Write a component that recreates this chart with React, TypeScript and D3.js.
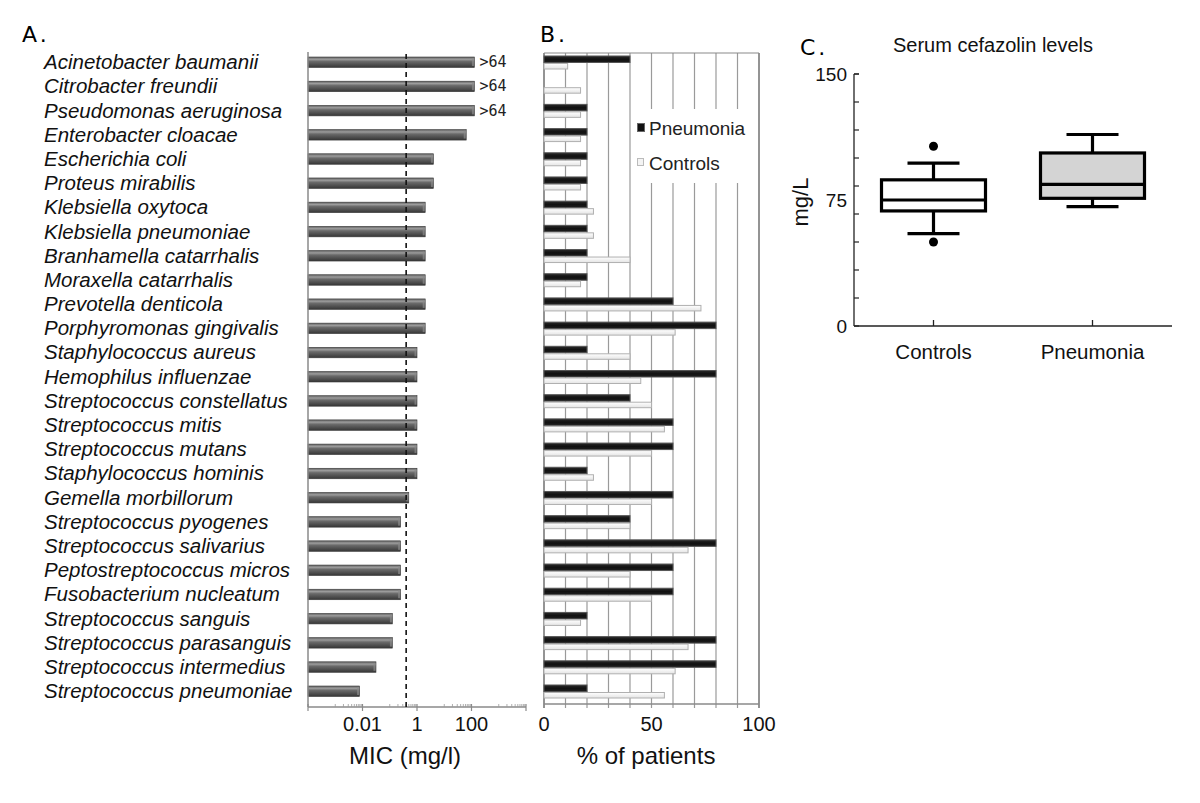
import React from "react";
import * as d3 from "d3";

const species = [
  "Acinetobacter baumanii",
  "Citrobacter freundii",
  "Pseudomonas aeruginosa",
  "Enterobacter cloacae",
  "Escherichia coli",
  "Proteus mirabilis",
  "Klebsiella oxytoca",
  "Klebsiella pneumoniae",
  "Branhamella catarrhalis",
  "Moraxella catarrhalis",
  "Prevotella denticola",
  "Porphyromonas gingivalis",
  "Staphylococcus aureus",
  "Hemophilus influenzae",
  "Streptococcus constellatus",
  "Streptococcus mitis",
  "Streptococcus mutans",
  "Staphylococcus hominis",
  "Gemella morbillorum",
  "Streptococcus pyogenes",
  "Streptococcus salivarius",
  "Peptostreptococcus micros",
  "Fusobacterium nucleatum",
  "Streptococcus sanguis",
  "Streptococcus parasanguis",
  "Streptococcus intermedius",
  "Streptococcus pneumoniae",
];

const micValues = [
  128, 128, 128, 64, 4, 4, 2, 2, 2, 2, 2, 2, 1, 1, 1, 1, 1, 1, 0.5, 0.25, 0.25,
  0.25, 0.25, 0.125, 0.125, 0.03125, 0.0078,
];
const micAnnotations = [">64", ">64", ">64"];
const micBreakpoint = 0.4;
const micTickLabels = [0.01, 1, 100];
const micTickText = ["0.01", "1", "100"];

const pneumoniaPct = [
  40, 0, 20, 20, 20, 20, 20, 20, 20, 20, 60, 80, 20, 80, 40, 60, 60, 20, 60, 40,
  80, 60, 60, 20, 80, 80, 20,
];
const controlsPct = [
  11, 17, 17, 17, 17, 17, 23, 23, 40, 17, 73, 61, 40, 45, 50, 56, 50, 23, 50,
  40, 67, 40, 50, 17, 67, 61, 56,
];
const pctTickLabels = [0, 50, 100];

const boxGroups = ["Controls", "Pneumonia"];
const boxQ1 = [68.5, 76];
const boxMedian = [75, 84.3];
const boxQ3 = [87, 103];
const whiskerLow = [55, 71];
const whiskerHigh = [97, 114];
const controlsOutliers = [107, 50];
const serumTickLabels = [0, 75, 150];

const SANS = "'Liberation Sans', Arial, sans-serif";

export default function App() {
  const rowY = d3.scalePoint<string>().domain(species).range([62, 691]);

  // Panel A
  const xA = d3.scaleLog().domain([1e-4, 1e4]).range([308, 526]);
  const axisAY = 707;
  const minorA: number[] = [];
  [-3, -1, 1, 3].forEach((d) => {
    for (let k = 1; k <= 9; k++) minorA.push(k * Math.pow(10, d));
  });
  const majorA = [1e-4, 1e-2, 1, 100, 1e4];

  // Panel B
  const xB = d3.scaleLinear().domain([0, 100]).range([544, 759]);
  const topB = 53;
  const axisBY = 704;
  const gridB = d3.range(0, 101, 10);

  // Panel C
  const xC = d3.scaleBand<string>().domain(boxGroups).range([854, 1172]);
  const yC = d3.scaleLinear().domain([0, 150]).range([326, 74]);
  const minorC = d3.range(0, 10).map((i) => (i * 150) / 9).concat([150]);
  const boxW = 104;
  const capW = 52;

  return (
    <svg
      width={1200}
      height={803}
      style={{ position: "absolute", left: 0, top: 0, display: "block", background: "#fff" }}
    >
      <defs>
        <linearGradient id="barGrad" x1="0" y1="0" x2="0" y2="1">
          <stop offset="0%" stopColor="#5e5e5e" />
          <stop offset="22%" stopColor="#9c9c9c" />
          <stop offset="42%" stopColor="#6a6a6a" />
          <stop offset="100%" stopColor="#363636" />
        </linearGradient>
        <linearGradient id="darkGrad" x1="0" y1="0" x2="0" y2="1">
          <stop offset="0%" stopColor="#2a2a2a" />
          <stop offset="50%" stopColor="#111" />
          <stop offset="100%" stopColor="#1e1e1e" />
        </linearGradient>
        <linearGradient id="lightGrad" x1="0" y1="0" x2="0" y2="1">
          <stop offset="0%" stopColor="#ffffff" />
          <stop offset="100%" stopColor="#e4e4e4" />
        </linearGradient>
      </defs>

      {/* Panel labels */}
      <text x={22} y={42} fontFamily="'DejaVu Sans', sans-serif" fontSize={22} letterSpacing={3}>A.</text>
      <text x={540} y={42} fontFamily="'DejaVu Sans', sans-serif" fontSize={22} letterSpacing={3}>B.</text>
      <text x={800} y={55} fontFamily="'DejaVu Sans', sans-serif" fontSize={22} letterSpacing={3}>C.</text>

      {/* ===== Panel A ===== */}
      {species.map((s) => (
        <text
          key={"lab" + s}
          x={44}
          y={rowY(s)!}
          dy="0.35em"
          fontFamily={SANS}
          fontStyle="italic"
          fontSize={20.5}
          fill="#111"
        >
          {s}
        </text>
      ))}
      {species.map((s, i) => {
        const y = rowY(s)!;
        const x0 = xA(1e-4);
        const x1 = xA(micValues[i]);
        return (
          <g key={"barA" + s}>
            <rect x={x0} y={y - 5} width={x1 - x0} height={10.5} fill="url(#barGrad)" stroke="#3a3a3a" strokeWidth={0.6} />
            <rect x={x1 - 2.5} y={y - 4} width={2} height={8} fill="#8a8a8a" opacity={0.7} />
          </g>
        );
      })}
      {micAnnotations.map((t, i) => (
        <text
          key={"ann" + i}
          x={xA(micValues[i]) + 5}
          y={rowY(species[i])!}
          dy="0.35em"
          fontFamily="'DejaVu Sans Mono', monospace"
          fontSize={15}
          fill="#222"
        >
          {t}
        </text>
      ))}
      {/* axes A */}
      <line x1={308} x2={308} y1={52} y2={axisAY} stroke="#8a8a8a" strokeWidth={1.5} />
      <line x1={308} x2={526} y1={axisAY} y2={axisAY} stroke="#8a8a8a" strokeWidth={1.5} />
      {minorA.map((v, i) => (
        <line key={"mA" + i} x1={xA(v)} x2={xA(v)} y1={axisAY - 3} y2={axisAY} stroke="#9a9a9a" strokeWidth={0.8} />
      ))}
      {majorA.map((v, i) => (
        <line key={"MA" + i} x1={xA(v)} x2={xA(v)} y1={axisAY - 3} y2={axisAY + 4} stroke="#8a8a8a" strokeWidth={1.2} />
      ))}
      <line
        x1={xA(micBreakpoint)}
        x2={xA(micBreakpoint)}
        y1={54}
        y2={axisAY}
        stroke="#111"
        strokeWidth={1.6}
        strokeDasharray="5,4"
      />
      {micTickLabels.map((v, i) => (
        <text key={"tA" + i} x={xA(v)} y={731} textAnchor="middle" fontFamily={SANS} fontSize={20} fill="#111">
          {micTickText[i]}
        </text>
      ))}
      <text x={405} y={764} textAnchor="middle" fontFamily={SANS} fontSize={24} fill="#111">
        MIC (mg/l)
      </text>

      {/* ===== Panel B ===== */}
      {gridB.map((v) => (
        <line
          key={"gB" + v}
          x1={xB(v)}
          x2={xB(v)}
          y1={topB}
          y2={axisBY + 4}
          stroke={v === 0 || v === 100 ? "#707070" : "#9a9a9a"}
          strokeWidth={v === 0 || v === 100 ? 1.5 : 1.2}
        />
      ))}
      <line x1={xB(0)} x2={xB(100)} y1={topB} y2={topB} stroke="#8a8a8a" strokeWidth={1.2} />
      <line x1={xB(0)} x2={xB(100)} y1={axisBY} y2={axisBY} stroke="#8a8a8a" strokeWidth={1.5} />
      {species.map((s, i) => {
        const y = rowY(s)!;
        return (
          <g key={"barB" + s}>
            {pneumoniaPct[i] > 0 && (
              <rect
                x={xB(0)}
                y={y - 6}
                width={xB(pneumoniaPct[i]) - xB(0)}
                height={6.5}
                fill="url(#darkGrad)"
                stroke="#555"
                strokeWidth={1}
              />
            )}
            <rect
              x={xB(0)}
              y={y + 1.5}
              width={xB(controlsPct[i]) - xB(0)}
              height={5.5}
              fill="url(#lightGrad)"
              stroke="#b0b0b0"
              strokeWidth={1}
            />
          </g>
        );
      })}
      {/* legend */}
      <rect x={632} y={109} width={116} height={74} fill="#fff" />
      <rect x={637.5} y={123.5} width={7} height={8} fill="#111" stroke="#666" strokeWidth={1} />
      <text x={649} y={128} dy="0.35em" fontFamily={SANS} fontSize={19} fill="#222">Pneumonia</text>
      <rect x={637.5} y={158.5} width={6} height={7} fill="#f4f4f4" stroke="#bbb" strokeWidth={1} />
      <text x={649} y={163} dy="0.35em" fontFamily={SANS} fontSize={19} fill="#222">Controls</text>
      {pctTickLabels.map((v) => (
        <text key={"tB" + v} x={xB(v)} y={731} textAnchor="middle" fontFamily={SANS} fontSize={20} fill="#111">
          {v}
        </text>
      ))}
      <text x={646} y={764} textAnchor="middle" fontFamily={SANS} fontSize={24} fill="#111">
        % of patients
      </text>

      {/* ===== Panel C ===== */}
      <text x={993} y={52} textAnchor="middle" fontFamily={SANS} fontSize={20} fill="#111">
        Serum cefazolin levels
      </text>
      <line x1={854} x2={854} y1={yC(150)} y2={yC(0)} stroke="#222" strokeWidth={1.3} />
      <line x1={854} x2={1172} y1={yC(0)} y2={yC(0)} stroke="#222" strokeWidth={1.3} />
      {minorC.map((v, i) => (
        <line key={"mC" + i} x1={854} x2={859} y1={yC(v)} y2={yC(v)} stroke="#222" strokeWidth={1.2} />
      ))}
      {serumTickLabels.map((v) => (
        <text key={"tC" + v} x={847} y={yC(v)} dy="0.35em" textAnchor="end" fontFamily={SANS} fontSize={19} fill="#111">
          {v}
        </text>
      ))}
      <text
        transform={`translate(808, ${yC(75) + 2}) rotate(-90)`}
        textAnchor="middle"
        fontFamily={SANS}
        fontSize={22}
        fill="#111"
      >
        mg/L
      </text>
      {boxGroups.map((g, i) => {
        const cx = xC(g)! + xC.bandwidth() / 2;
        return (
          <g key={"box" + g}>
            <line x1={cx} x2={cx} y1={yC(0)} y2={yC(0) - 6} stroke="#222" strokeWidth={1.3} />
            <text x={cx} y={359} textAnchor="middle" fontFamily={SANS} fontSize={20.5} fill="#111">
              {g}
            </text>
            <line x1={cx} x2={cx} y1={yC(whiskerHigh[i])} y2={yC(boxQ3[i])} stroke="#000" strokeWidth={3.2} />
            <line x1={cx} x2={cx} y1={yC(boxQ1[i])} y2={yC(whiskerLow[i])} stroke="#000" strokeWidth={3.2} />
            <line x1={cx - capW / 2} x2={cx + capW / 2} y1={yC(whiskerHigh[i])} y2={yC(whiskerHigh[i])} stroke="#000" strokeWidth={3.2} />
            <line x1={cx - capW / 2} x2={cx + capW / 2} y1={yC(whiskerLow[i])} y2={yC(whiskerLow[i])} stroke="#000" strokeWidth={3.2} />
            <rect
              x={cx - boxW / 2}
              y={yC(boxQ3[i])}
              width={boxW}
              height={yC(boxQ1[i]) - yC(boxQ3[i])}
              fill={i === 0 ? "#fff" : "#d4d4d4"}
              stroke="#000"
              strokeWidth={3.2}
            />
            <line x1={cx - boxW / 2} x2={cx + boxW / 2} y1={yC(boxMedian[i])} y2={yC(boxMedian[i])} stroke="#000" strokeWidth={3.2} />
          </g>
        );
      })}
      {controlsOutliers.map((v, i) => (
        <circle
          key={"out" + i}
          cx={xC(boxGroups[0])! + xC.bandwidth() / 2}
          cy={yC(v)}
          r={4.5}
          fill="#000"
        />
      ))}
    </svg>
  );
}
